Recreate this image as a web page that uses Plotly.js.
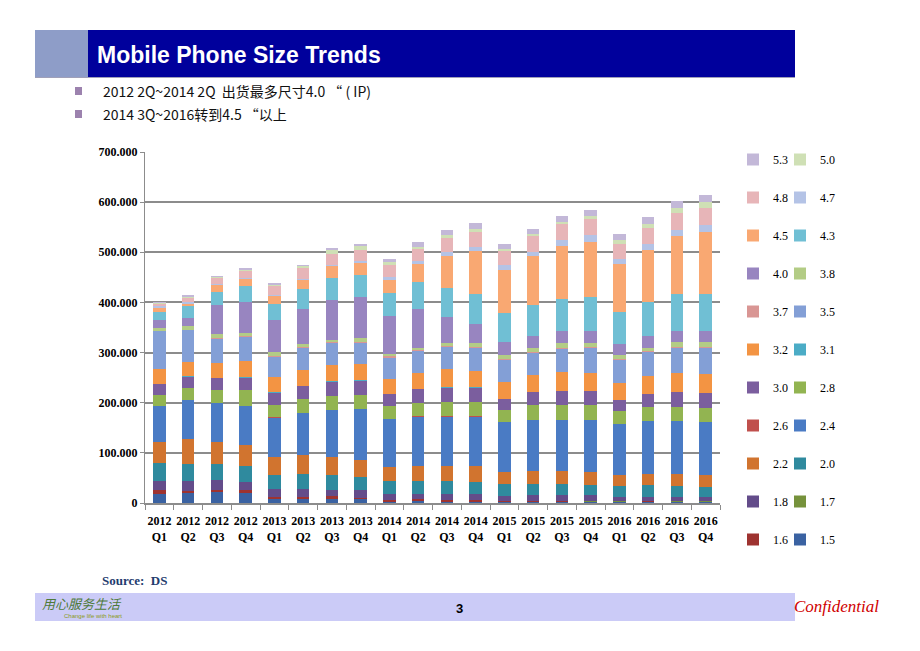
<!DOCTYPE html>
<html>
<head>
<meta charset="utf-8">
<script src="https://cdn.plot.ly/plotly-3.0.1.min.js"></script>
<style>
  html, body { margin: 0; padding: 0; background: #ffffff; }
  #chart { width: 920px; height: 651px; }
</style>
</head>
<body>
<div id="chart"></div>
<script>
// ---- Data (values in thousands of units) ----
const years    = ['2012','2012','2012','2012','2013','2013','2013','2013','2014','2014','2014','2014','2015','2015','2015','2015','2016','2016','2016','2016'];
const quarters = ['Q1','Q2','Q3','Q4','Q1','Q2','Q3','Q4','Q1','Q2','Q3','Q4','Q1','Q2','Q3','Q4','Q1','Q2','Q3','Q4'];

const sizeLabels = ['1.5','1.6','1.7','1.8','2.0','2.2','2.4','2.6','2.8','3.0','3.1','3.2','3.5','3.7','3.8','4.0','4.3','4.5','4.7','4.8','5.0','5.3'];

const s1_5 = [18,19,21,19,7,7,8,7,3,4,3,3,3,3,2,2,2,3,2,2];
const s1_6 = [7,4,5,7,4,5,5,3,3,3,3,2,1,1,2,1,1,1,1,1];
const s1_7 = [0.5,0.5,0.5,0.5,0.5,0.5,0.5,0.5,0.3,0.3,0.3,0.3,0.2,0.2,0.2,0.2,0.2,0.2,0.2,0.2];
const s1_8 = [19,20,19,16,16,15,13,15,11,10,12,13,10,11,11,12,9,8,9,9];
const s2_0 = [35,35,33,32,29,31,29,27,27,27,25,24,23,23,22,21,21,23,21,19];
const s2_2 = [43,50,44,41,36,37,36,34,28,29,31,31,24,25,26,26,23,23,25,25];
const s2_4 = [71,76,77,78,78,84,94,100,95,99,98,99,100,103,103,104,102,106,105,106];
const s2_6 = [0.5,0.5,0.5,0.5,0.5,0.5,0.5,0.5,0.5,0.5,0.5,0.5,0.3,0.3,0.3,0.3,0.3,0.3,0.3,0.3];
const s2_8 = [22,24,25,31,25,27,27,28,25,27,28,28,24,28,28,28,24,26,27,27];
const s3_0 = [21,23,24,25,24,26,29,29,24,27,29,29,22,26,29,28,23,26,30,29];
const s3_1 = [0.8,0.8,0.8,0.8,0.8,0.8,0.8,0.8,0.8,0.8,0.8,0.8,0.8,0.8,0.8,0.8,0.8,0.8,0.8,0.8];
const s3_2 = [29,29,29,32,30,32,32,32,30,32,36,33,34,34,37,36,34,36,37,37];
const s3_5 = [76,63,49,48,41,43,44,43,42,44,44,46,42,44,46,50,44,47,51,53];
const s3_7 = [1,1,2,3,2,2,2,2,3,1,2,2,3,2,2,2,3,2,2,2];
const s3_8 = [5,8,7,5,7,7,5,7,5,5,7,7,7,8,9,7,8,7,9,9];
const s4_0 = [17,16,58,63,64,70,80,83,75,78,52,38,26,24,24,24,21,23,23,23];
const s4_3 = [16,23,27,31,33,39,43,42,47,53,57,60,58,62,65,68,65,69,73,73];
const s4_5 = [8,5,12,13,15,17,23,25,26,36,64,86,87,97,106,111,96,104,116,124];
const s4_7 = [3,3,3,3,2,3,3,3,5,7,8,7,9,9,11,13,10,12,13,15];
const s4_8 = [5,9,12,13,17,21,22,23,25,22,28,30,28,31,32,32,30,31,33,33];
const s5_0 = [1,2,2,3,3,4,8,7,5,5,5,7,5,5,5,7,7,9,10,11];
const s5_3 = [2,3,2,3,3,3,4,5,7,9,11,11,10,10,11,12,13,13,13,15];

const seriesValues = [s1_5,s1_6,s1_7,s1_8,s2_0,s2_2,s2_4,s2_6,s2_8,s3_0,s3_1,s3_2,s3_5,s3_7,s3_8,s4_0,s4_3,s4_5,s4_7,s4_8,s5_0,s5_3];

const seriesColors = ['#3A62A2','#9E3330','#76923C','#634C8A','#2F8A9E','#D1742F',
                      '#4A7BC4','#C0504D','#92B451','#7B5E9E','#4BACC6','#F39443',
                      '#839FD6','#D99694','#B3CC85','#9885C0','#70BFD4','#F9A872',
                      '#B4C3E6','#E7B5B8','#CFE0B5','#C3B8D8'];

// ---- Geometry helpers (pixel -> paper) ----
const L = 145, R = 720, T = 152, B = 503;
const px = v => (v - L) / (R - L);
const py = v => (B - v) / (B - T);

const cats = years.map((y, i) => y + '<br>' + quarters[i]);

const traces = seriesValues.map((vals, i) => ({
  type: 'bar',
  name: sizeLabels[i],
  x: cats,
  y: vals.map(v => v * 1000),
  marker: { color: seriesColors[i], line: { width: 0 } },
  legend: (i % 2 === 0) ? 'legend2' : 'legend',
  legendgroup: 'g' + i,
  legendrank: 100 - i,
  hoverinfo: 'name+y'
}));

const serif = 'Liberation Serif, Times New Roman, serif';

const legendCommon = {
  font: { family: serif, size: 12, color: '#000' },
  bgcolor: 'rgba(0,0,0,0)',
  borderwidth: 0,
  traceorder: 'grouped',
  tracegroupgap: 19,
  itemwidth: 30,
  maxheight: 640,
  yanchor: 'top',
  xanchor: 'left',
  y: py(145)
};

const shapes = [
  { type: 'rect', xref: 'paper', yref: 'paper', x0: px(35), x1: px(88), y0: py(77), y1: py(30),
    fillcolor: '#8E9DC8', line: { width: 0 }, layer: 'below' },
  { type: 'rect', xref: 'paper', yref: 'paper', x0: px(88), x1: px(795), y0: py(77), y1: py(30),
    fillcolor: '#00009C', line: { width: 0 }, layer: 'below' },
  { type: 'line', xref: 'paper', yref: 'paper', x0: px(35), x1: px(795), y0: py(77.5), y1: py(77.5),
    line: { color: '#A0A0B8', width: 1 } },
  { type: 'rect', xref: 'paper', yref: 'paper', x0: px(75), x1: px(82), y0: py(95), y1: py(87),
    fillcolor: '#9C82AE', line: { width: 0 } },
  { type: 'rect', xref: 'paper', yref: 'paper', x0: px(75), x1: px(82), y0: py(118), y1: py(110),
    fillcolor: '#9C82AE', line: { width: 0 } },
  { type: 'rect', xref: 'paper', yref: 'paper', x0: px(35), x1: px(795), y0: py(621), y1: py(593),
    fillcolor: '#CBCBF7', line: { width: 0 }, layer: 'below' }
];

const annotations = [
  { xref: 'paper', yref: 'paper', x: px(95), y: py(55), xanchor: 'left', yanchor: 'middle', showarrow: false,
    text: '<b>Mobile Phone Size Trends</b>', font: { family: 'Liberation Sans, Arial, sans-serif', size: 23, color: '#FFFFFF' } },
  { xref: 'paper', yref: 'paper', x: px(101), y: py(91), xanchor: 'left', yanchor: 'middle', showarrow: false,
    text: '2012 2Q~2014 2Q  出货最多尺寸4.0 “ ( IP)', font: { family: 'Noto Sans CJK SC, sans-serif', size: 14, color: '#111' } },
  { xref: 'paper', yref: 'paper', x: px(101), y: py(114), xanchor: 'left', yanchor: 'middle', showarrow: false,
    text: '2014 3Q~2016转到4.5 “以上', font: { family: 'Noto Sans CJK SC, sans-serif', size: 14, color: '#111' } },
  { xref: 'paper', yref: 'paper', x: px(100), y: py(580), xanchor: 'left', yanchor: 'middle', showarrow: false,
    text: '<b>Source:  DS</b>', font: { family: serif, size: 13, color: '#1F3C6E' } },
  { xref: 'paper', yref: 'paper', x: px(460), y: py(608), xanchor: 'center', yanchor: 'middle', showarrow: false,
    text: '<b>3</b>', font: { family: 'Liberation Sans, Arial, sans-serif', size: 13, color: '#000' } },
  { xref: 'paper', yref: 'paper', x: px(881), y: py(606), xanchor: 'right', yanchor: 'middle', showarrow: false,
    text: '<i>Confidential</i>', font: { family: serif, size: 17, color: '#D00000' } },
  { xref: 'paper', yref: 'paper', x: px(40), y: py(603), xanchor: 'left', yanchor: 'middle', showarrow: false,
    text: '<i>用心服务生活</i>', font: { family: 'Noto Sans CJK SC, sans-serif', size: 13, color: '#4E7A3A' } },
  { xref: 'paper', yref: 'paper', x: px(62), y: py(616), xanchor: 'left', yanchor: 'middle', showarrow: false,
    text: 'Change life with heart', font: { family: 'Liberation Sans, Arial, sans-serif', size: 6, color: '#8A9A20' } }
];

const layout = {
  width: 920, height: 651,
  margin: { l: L, r: 920 - R, t: T, b: 651 - B, pad: 0 },
  paper_bgcolor: '#FFFFFF',
  plot_bgcolor: '#FFFFFF',
  barmode: 'stack',
  bargap: 0.56,
  separators: ',.',
  showlegend: true,
  font: { family: serif, color: '#000' },
  xaxis: {
    type: 'category',
    tickson: 'boundaries',
    tickangle: 0,
    ticklabelstandoff: 6,
    ticks: 'outside', ticklen: 5, tickcolor: '#8C8C8C', tickwidth: 1,
    showline: true, linecolor: '#8C8C8C', linewidth: 2,
    showgrid: false,
    tickfont: { family: serif, size: 12, color: '#000', weight: 'bold' },
    fixedrange: true
  },
  yaxis: {
    range: [0, 700000],
    dtick: 100000,
    tickformat: ',d',
    ticks: 'outside', ticklen: 4, tickcolor: '#8C8C8C',
    showline: true, linecolor: '#8C8C8C', linewidth: 1,
    showgrid: true, gridcolor: '#8C8C8C', gridwidth: 2,
    zeroline: false,
    tickfont: { family: serif, size: 12, color: '#000', weight: 'bold' },
    fixedrange: true
  },
  legend: Object.assign({}, legendCommon, { x: px(733) }),
  legend2: Object.assign({}, legendCommon, { x: px(780) }),
  shapes: shapes,
  annotations: annotations
};

Plotly.newPlot('chart', traces, layout, { displayModeBar: false, staticPlot: true });
</script>
</body>
</html>
